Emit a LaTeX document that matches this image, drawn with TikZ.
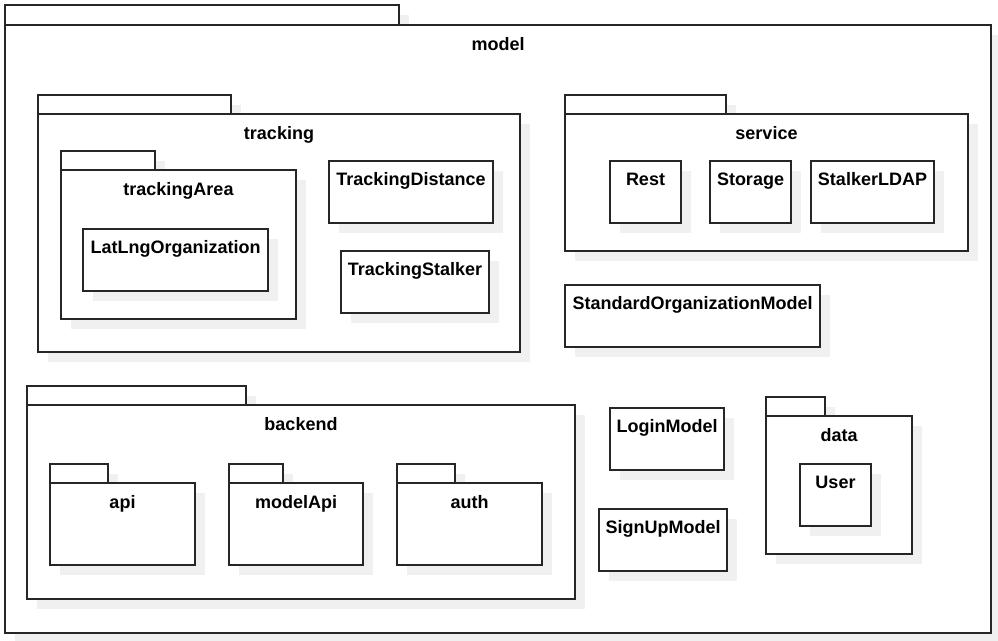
\documentclass[tikz,border=0pt]{standalone}
\usepackage{fontspec}
\setmainfont{Liberation Sans}
\begin{document}
\begin{tikzpicture}[x=1pt,y=-1pt,
  boxline/.style={draw=black!85,line width=1.4pt,fill=white},
  shadowc/.style={fill=black!6},
  lbl/.style={anchor=base,inner sep=0pt,font=\fontsize{18}{21}\bfseries\selectfont}]
\useasboundingbox (0,0) rectangle (998,640);
\newcommand\umlbox[6]{% name x1 y1 x2 y2 label
  \fill[shadowc] (#2+10,#3+10) rectangle (#4+10,#5+10);
  \draw[boxline] (#2,#3) rectangle (#4,#5);
  \node[lbl] (#1) at ({(#2+#4)/2},#3+24) {#6};}
\newcommand\umlpkg[8]{% name x1 tabtop tabx2 bodytop x2 y2 label
  \fill[shadowc] (#2+10,#3+10) rectangle (#4+10,#5+10);
  \fill[shadowc] (#2+10,#5+10) rectangle (#6+10,#7+10);
  \draw[boxline] (#2,#3) rectangle (#4,#5);
  \draw[boxline] (#2,#5) rectangle (#6,#7);
  \node[lbl] (#1) at ({(#2+#6)/2},#5+25) {#8};}
% outer
\umlpkg{model}{5}{5}{399}{25}{991}{633}{model}
% tracking
\umlpkg{tracking}{38}{95}{231}{114}{520}{352}{tracking}
\umlpkg{trackingArea}{61}{151}{155}{170}{296}{319}{trackingArea}
\umlbox{latlng}{83}{229}{268}{291}{LatLngOrganization}
\umlbox{tdist}{329}{161}{493}{223}{TrackingDistance}
\umlbox{tstalk}{341}{251}{489}{313}{TrackingStalker}
% service
\umlpkg{service}{565}{95}{726}{114}{968}{251}{service}
\umlbox{rest}{610}{161}{681}{223}{Rest}
\umlbox{storage}{710}{161}{791}{223}{Storage}
\umlbox{ldap}{811}{161}{934}{223}{StalkerLDAP}
\umlbox{stdorg}{565}{285}{820}{347}{StandardOrganizationModel}
% backend
\umlpkg{backend}{27}{386}{246}{405}{575}{599}{backend}
\umlpkg{api}{50}{464}{108}{483}{195}{565}{api}
\umlpkg{modelApi}{229}{464}{283}{483}{363}{565}{modelApi}
\umlpkg{auth}{397}{464}{455}{483}{542}{565}{auth}
% others
\umlbox{login}{610}{408}{724}{470}{LoginModel}
\umlbox{signup}{599}{509}{727}{571}{SignUpModel}
\umlpkg{data}{766}{397}{825}{416}{912}{554}{data}
\umlbox{user}{800}{464}{871}{526}{User}
\end{tikzpicture}
\end{document}
